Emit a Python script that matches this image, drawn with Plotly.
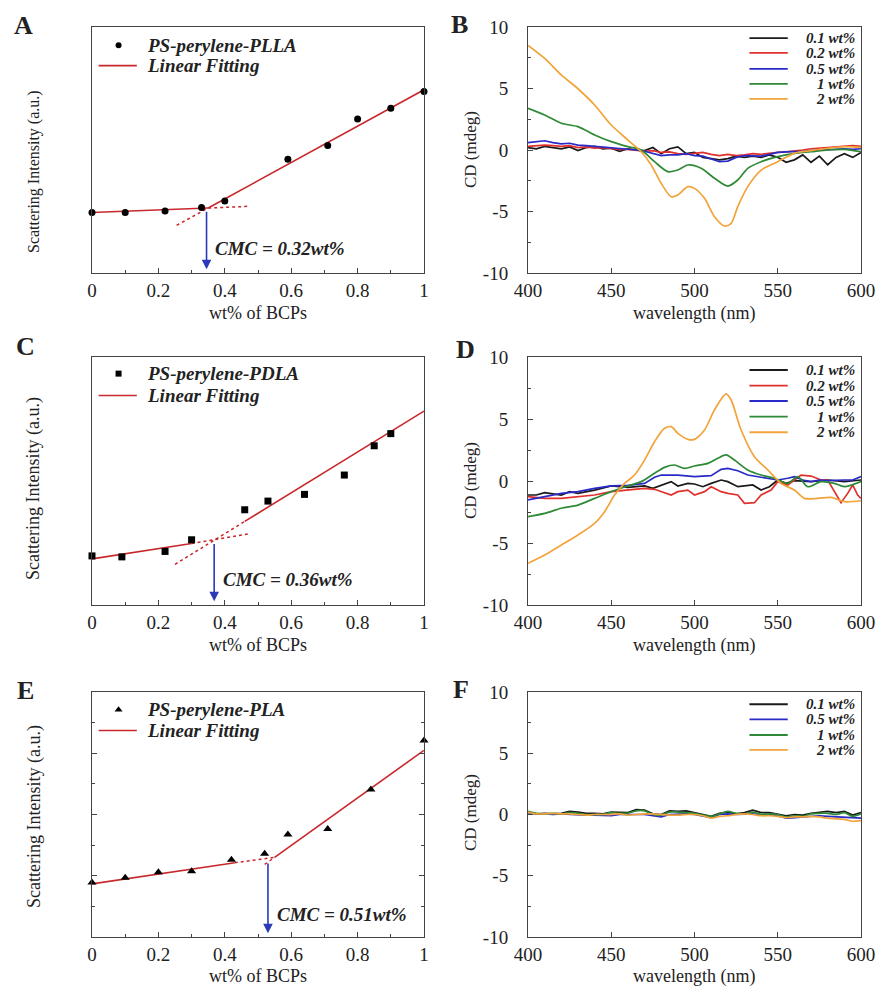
import plotly.graph_objects as go

W, H = 876, 988
FONT = "Liberation Serif, Times New Roman, serif"

# ---------------- Scattering data (arbitrary units, 0-10 scale) ----------------
a_x = [0, 0.10, 0.22, 0.33, 0.40, 0.59, 0.71, 0.80, 0.90, 1.00]
a_y = [2.46, 2.46, 2.52, 2.66, 2.93, 4.62, 5.18, 6.26, 6.70, 7.38]
a_fit1_x = [0, 0.35]; a_fit1_y = [2.46, 2.64]
a_ext1_x = [0.35, 0.47]; a_ext1_y = [2.64, 2.71]
a_fit2_x = [0.35, 1.0]; a_fit2_y = [2.64, 7.45]
a_ext2_x = [0.255, 0.35]; a_ext2_y = [1.94, 2.64]
a_cmc = 0.345

c_x = [0, 0.09, 0.22, 0.30, 0.46, 0.53, 0.64, 0.76, 0.85, 0.90]
c_y = [1.98, 1.94, 2.16, 2.63, 3.84, 4.19, 4.46, 5.24, 6.42, 6.91]
c_fit1_x = [0, 0.30]; c_fit1_y = [1.86, 2.48]
c_ext1_x = [0.30, 0.47]; c_ext1_y = [2.48, 2.86]
c_fit2_x = [0.46, 1.0]; c_fit2_y = [3.37, 7.82]
c_ext2_x = [0.25, 0.46]; c_ext2_y = [1.64, 3.37]
c_cmc = 0.368

e_x = [0, 0.10, 0.20, 0.30, 0.42, 0.52, 0.59, 0.71, 0.84, 1.00]
e_y = [2.22, 2.42, 2.64, 2.68, 3.15, 3.40, 4.18, 4.41, 6.02, 8.02]
e_fit1_x = [0, 0.43]; e_fit1_y = [2.17, 3.03]
e_ext1_x = [0.43, 0.55]; e_ext1_y = [3.03, 3.25]
e_fit2_x = [0.55, 1.0]; e_fit2_y = [3.25, 7.62]
e_ext2_x = [0.52, 0.55]; e_ext2_y = [2.96, 3.25]
e_cmc = 0.53

# ---------------- CD spectra ----------------
wl5 = list(range(400, 601, 5))

b_01 = [0.2,0.1,0.3,0.2,0.1,0.25,-0.05,0.2,0.3,0.1,0.15,-0.1,0.1,0.0,-0.05,0.2,-0.3,0.1,0.25,-0.3,
        -0.2,-0.6,-0.7,-0.8,-0.7,-0.5,-0.6,-0.5,-0.6,-0.4,-0.6,-1.0,-0.8,-0.4,-1.0,-0.5,-1.2,-0.6,-0.3,-0.6,-0.2]
b_02 = [0.3,0.35,0.4,0.35,0.3,0.35,0.2,0.25,0.15,0.2,0.1,0.05,0.05,0.0,-0.1,-0.05,-0.2,-0.15,-0.3,-0.35,
        -0.3,-0.2,-0.35,-0.45,-0.35,-0.45,-0.4,-0.3,-0.35,-0.25,-0.2,-0.15,-0.1,0.0,0.1,0.15,0.2,0.25,0.3,0.35,0.3]
b_05 = [0.6,0.65,0.75,0.6,0.5,0.55,0.4,0.35,0.3,0.25,0.15,0.1,0.05,0.0,-0.1,-0.3,-0.45,-0.4,-0.4,-0.3,
        -0.45,-0.5,-0.7,-0.95,-0.9,-0.6,-0.45,-0.5,-0.5,-0.35,-0.2,-0.15,-0.15,-0.1,-0.05,0.0,0.05,0.1,0.1,0.05,0.1]
b_1_wl = [400,410,420,430,440,450,460,468,476,484,490,496,504,512,520,526,532,540,550,560,570,580,590,600]
b_1 = [3.39,2.85,2.17,1.9,1.22,0.68,0.27,0.0,-0.95,-1.76,-1.63,-1.22,-1.49,-2.3,-2.93,-2.44,-1.49,-0.95,
       -0.54,-0.27,-0.14,0.0,0.05,-0.14]
b_2_wl = [400,410,420,430,440,450,460,468,474,480,486,490,496,500,506,512,518,522,526,532,540,550,560,570,580,590,600]
b_2 = [8.5,7.45,6.1,4.98,3.66,2.03,0.81,-0.14,-1.22,-2.71,-3.8,-3.66,-2.98,-3.12,-3.93,-5.42,-6.18,-5.96,
       -4.6,-2.98,-1.63,-0.95,-0.27,-0.05,0.14,0.27,0.22]

d_01_wl = [400,405,410,420,425,430,440,450,460,470,475,480,486,490,496,500,505,510,516,520,526,530,535,540,545,550,555,560,570,580,590,600]
d_01 = [-1.13,-1.13,-0.94,-1.13,-0.86,-1.0,-0.73,-0.4,-0.51,-0.4,-0.59,-0.32,-0.05,-0.4,-0.19,-0.24,-0.46,
        -0.19,0.08,-0.05,-0.46,-0.4,-0.32,-0.73,-0.46,0.08,-0.19,0.03,-0.05,0.08,-0.05,0.08]
d_02_wl = [400,410,420,430,440,450,460,470,476,480,486,490,496,500,506,510,516,520,526,530,536,540,546,550,556,560,564,570,576,580,586,588,592,595,598,600]
d_02 = [-1.26,-1.4,-1.4,-1.26,-1.13,-0.86,-0.73,-0.59,-0.67,-0.86,-1.13,-0.86,-0.73,-1.13,-0.86,-0.46,-0.86,
        -1.0,-1.13,-1.8,-1.75,-1.13,-0.73,-0.05,-0.32,0.08,0.48,0.4,0.08,0.08,-1.26,-1.75,-1.0,-0.32,-1.13,-1.4]
d_05_wl = [400,410,420,430,440,450,460,470,476,480,490,500,510,516,520,526,532,540,550,556,560,565,570,575,580,590,595,600]
d_05 = [-1.53,-1.26,-1.0,-0.86,-0.59,-0.4,-0.35,-0.19,0.3,0.48,0.48,0.35,0.43,0.94,1.02,0.83,0.48,0.3,0.08,
        0.22,0.35,0.08,-0.05,0.08,0.03,0.08,0.08,0.35]
d_1_wl = [400,410,420,430,440,450,460,468,476,482,488,494,500,508,514,519,524,532,540,548,556,562,568,576,584,590,600]
d_1 = [-2.88,-2.61,-2.2,-1.94,-1.4,-0.86,-0.4,-0.05,0.62,1.1,1.29,1.02,1.21,1.42,1.83,2.1,1.69,0.89,0.48,
       0.22,-0.19,0.35,-0.46,-0.05,-0.19,-0.46,-0.05]
d_2_wl = [400,410,420,430,440,446,452,458,464,470,476,482,486,490,496,500,506,512,519,522,528,536,544,552,560,566,574,582,590,600]
d_2 = [-6.64,-5.97,-5.16,-4.35,-3.41,-2.47,-1.13,-0.19,0.48,1.69,3.17,4.25,4.38,3.84,3.36,3.36,4.11,5.73,
       7.02,6.53,4.11,1.96,0.89,-0.19,-0.73,-1.4,-1.4,-1.32,-1.67,-1.59]

f_01 = [0.2,0.05,0.1,0.05,0.1,0.25,0.2,0.1,0.1,0.05,0.2,0.15,0.15,0.4,0.35,0.05,0.0,0.3,0.25,0.3,0.15,
        0.05,-0.15,0.1,0.2,0.05,0.15,0.35,0.15,0.15,0.05,-0.1,0.0,-0.05,0.1,0.15,0.25,0.15,0.25,-0.05,0.15]
f_05 = [0.15,0.05,0.05,0.0,0.05,0.0,0.0,-0.05,-0.05,-0.1,-0.1,0.0,0.0,0.05,0.0,-0.1,-0.2,0.0,0.05,0.05,
        0.0,-0.15,-0.25,0.0,0.05,0.0,0.05,0.05,-0.05,0.0,-0.1,-0.3,-0.25,-0.2,-0.1,-0.1,-0.15,-0.2,-0.2,-0.25,-0.3]
f_1 = [0.25,0.1,0.05,0.1,0.05,0.15,0.1,0.0,0.0,0.0,0.15,0.1,0.1,0.3,0.3,0.0,-0.05,0.2,0.2,0.15,0.1,
       -0.05,-0.15,0.05,0.25,0.1,0.05,0.2,0.0,0.05,0.0,-0.2,-0.1,-0.15,0.05,0.1,0.1,0.0,0.15,-0.15,0.05]
f_2 = [0.2,0.05,0.05,0.1,0.05,0.05,0.0,-0.05,0.0,0.0,0.0,0.05,-0.05,0.0,0.05,0.05,0.0,-0.05,-0.05,0.0,
       0.0,-0.1,-0.3,-0.15,-0.1,0.0,0.05,0.0,-0.1,-0.1,-0.15,-0.25,-0.2,-0.2,-0.15,-0.2,-0.3,-0.35,-0.4,-0.55,-0.5]

x_ticks_left = [0, 0.2, 0.4, 0.6, 0.8, 1]
x_ticklabels_left = ["0", "0.2", "0.4", "0.6", "0.8", "1"]
x_ticks_right = [400, 450, 500, 550, 600]
y_ticks_right = [-10, -5, 0, 5, 10]
y_ticklabels_right = ["-10", "-5", "0", "5", "10"]

COL = {"0.1 wt%": "#1a1a1a", "0.2 wt%": "#e0302c", "0.5 wt%": "#2a2ac8",
       "1 wt%": "#2e8a36", "2 wt%": "#f2a33a"}
FIT = "#c8282c"
ARROW = "#2a3ab8"

fig = go.Figure()

def px2x(px):
    return px / W

def px2y(py):
    return 1 - py / H

# domains
xl = [px2x(92), px2x(424)]
xr = [px2x(528), px2x(861)]
rows = [[px2y(273), px2y(27)], [px2y(605), px2y(357)], [px2y(937), px2y(692)]]

axis_common = dict(showline=True, mirror=True, linecolor="#444", linewidth=1,
                   showgrid=False, zeroline=False, ticks="inside", automargin=False,
                   tickfont=dict(family=FONT, size=19, color="#222"), tickcolor="#444")

layout = dict(width=W, height=H, margin=dict(l=0, r=0, t=0, b=0, autoexpand=False),
              paper_bgcolor="white", plot_bgcolor="white", showlegend=False)

annotations = []

for i, r in enumerate(rows):
    li = 2 * i + 1
    ri = 2 * i + 2
    lx = "xaxis" if li == 1 else f"xaxis{li}"
    ly = "yaxis" if li == 1 else f"yaxis{li}"
    layout[lx] = dict(axis_common, domain=xl, anchor=f"y{li if li > 1 else ''}", range=[0, 1],
                      tickvals=x_ticks_left, ticktext=x_ticklabels_left, ticklen=5,
                      ticklabelstandoff=0,
                      minor=dict(ticks="inside", ticklen=3, dtick=0.1, tickcolor="#444"))
    ydict = dict(axis_common, domain=r, anchor=f"x{li if li > 1 else ''}", range=[0, 10],
                 showticklabels=False, ticks="")
    if i == 2:
        ydict.update(ticks="inside", mirror="ticks", tickvals=[0, 2.5, 5, 7.5, 10], ticklen=5,
                     minor=dict(ticks="inside", ticklen=3, tickvals=[1.25, 3.75, 6.25, 8.75], tickcolor="#444"))
    layout[ly] = ydict
    layout[f"xaxis{ri}"] = dict(axis_common, domain=xr, anchor=f"y{ri}", range=[400, 600],
                                tickvals=x_ticks_right, ticklen=5, ticklabelstandoff=0)
    layout[f"yaxis{ri}"] = dict(axis_common, domain=r, anchor=f"x{ri}", range=[-10, 10],
                                tickvals=y_ticks_right, ticktext=y_ticklabels_right,
                                ticklen=5, ticklabelstandoff=15,
                                minor=dict(ticks="inside", ticklen=3, tickvals=[-7.5, -2.5, 2.5, 7.5], tickcolor="#444"))

def ax(n):
    return ("x" if n == 1 else f"x{n}"), ("y" if n == 1 else f"y{n}")

# ---------- left panels ----------
left_panels = [
    (1, a_x, a_y, "circle", 7, "PS-perylene-PLLA", a_fit1_x, a_fit1_y, a_ext1_x, a_ext1_y,
     a_fit2_x, a_fit2_y, a_ext2_x, a_ext2_y, a_cmc, 2.55, "CMC = 0.32wt%", 1.0, (9.26, 8.43)),
    (3, c_x, c_y, "square", 7, "PS-perylene-PDLA", c_fit1_x, c_fit1_y, c_ext1_x, c_ext1_y,
     c_fit2_x, c_fit2_y, c_ext2_x, c_ext2_y, c_cmc, 2.52, "CMC = 0.36wt%", 1.04, (9.33, 8.45)),
    (5, e_x, e_y, "triangle-up", 8, "PS-perylene-PLA", e_fit1_x, e_fit1_y, e_ext1_x, e_ext1_y,
     e_fit2_x, e_fit2_y, e_ext2_x, e_ext2_y, e_cmc, 3.06, "CMC = 0.51wt%", 0.92, (9.28, 8.43)),
]

for (n, px, py, sym, msz, name, f1x, f1y, e1x, e1y, f2x, f2y, e2x, e2y, cmc, ytop, cmctxt, cmcy, legy) in left_panels:
    xa, ya = ax(n)
    for ex, ey in [(e1x, e1y), (e2x, e2y)]:
        fig.add_trace(go.Scatter(x=ex, y=ey, mode="lines", xaxis=xa, yaxis=ya,
                                 line=dict(color=FIT, width=1.5, dash="dot"), hoverinfo="skip"))
    for fx, fy in [(f1x, f1y), (f2x, f2y)]:
        fig.add_trace(go.Scatter(x=fx, y=fy, mode="lines", xaxis=xa, yaxis=ya,
                                 line=dict(color=FIT, width=1.6)))
    fig.add_trace(go.Scatter(x=px, y=py, mode="markers", xaxis=xa, yaxis=ya, name=name,
                             marker=dict(symbol=sym, size=msz, color="black"), cliponaxis=False))
    # legend keys
    fig.add_trace(go.Scatter(x=[0.08], y=[legy[0]], mode="markers", xaxis=xa, yaxis=ya,
                             marker=dict(symbol=sym, size=msz - 1, color="black"), hoverinfo="skip"))
    fig.add_trace(go.Scatter(x=[0.02, 0.135], y=[legy[1], legy[1]], mode="lines", xaxis=xa, yaxis=ya,
                             line=dict(color=FIT, width=1.6), hoverinfo="skip"))
    for txt, yy in [(name, legy[0]), ("Linear Fitting", legy[1])]:
        annotations.append(dict(x=0.16, y=yy, xref=xa, yref=ya, text=f"<b><i>{txt}</i></b>",
                                showarrow=False, xanchor="left", yanchor="middle",
                                font=dict(family=FONT, size=19, color="#222")))
    # CMC arrow
    annotations.append(dict(x=cmc, y=0.15, ax=cmc, ay=ytop, xref=xa, yref=ya, axref=xa, ayref=ya,
                            text="", showarrow=True, arrowhead=2, arrowsize=1.2, arrowwidth=1.6,
                            arrowcolor=ARROW))
    annotations.append(dict(x=cmc + 0.02, y=cmcy, xref=xa, yref=ya, text=f"<b><i>{cmctxt}</i></b>",
                            showarrow=False, xanchor="left", yanchor="middle",
                            font=dict(family=FONT, size=19, color="#222")))

# ---------- right panels ----------
right_panels = [
    (2, [("0.1 wt%", wl5, b_01), ("0.2 wt%", wl5, b_02), ("0.5 wt%", wl5, b_05),
         ("1 wt%", b_1_wl, b_1), ("2 wt%", b_2_wl, b_2)], [9.1, 7.9, 6.6, 5.37, 4.15]),
    (4, [("0.1 wt%", d_01_wl, d_01), ("0.2 wt%", d_02_wl, d_02), ("0.5 wt%", d_05_wl, d_05),
         ("1 wt%", d_1_wl, d_1), ("2 wt%", d_2_wl, d_2)], [8.95, 7.69, 6.45, 5.19, 3.93]),
    (6, [("0.1 wt%", wl5, f_01), ("0.5 wt%", wl5, f_05), ("1 wt%", wl5, f_1), ("2 wt%", wl5, f_2)],
     [9.0, 7.77, 6.49, 5.27]),
]

for n, series, legys in right_panels:
    xa, ya = ax(n)
    for (lab, wx, wy) in series:
        smooth = lab in ("1 wt%", "2 wt%")
        fig.add_trace(go.Scatter(x=wx, y=wy, mode="lines", xaxis=xa, yaxis=ya, name=lab,
                                 line=dict(color=COL[lab], width=1.7,
                                           shape="spline" if smooth else "linear", smoothing=0.8)))
    for (lab, _, _), yy in zip(series, legys):
        fig.add_trace(go.Scatter(x=[533, 556], y=[yy, yy], mode="lines", xaxis=xa, yaxis=ya,
                                 line=dict(color=COL[lab], width=1.8), hoverinfo="skip"))
        annotations.append(dict(x=597.5, y=yy, xref=xa, yref=ya, text=f"<b><i>{lab}</i></b>",
                                showarrow=False, xanchor="right", yanchor="middle",
                                font=dict(family=FONT, size=15, color="#222")))

# ---------- axis titles & panel letters ----------
def ptext(x, y, text, size, angle=0, bold=False):
    t = f"<b>{text}</b>" if bold else text
    annotations.append(dict(x=px2x(x), y=px2y(y), xref="paper", yref="paper", text=t,
                            showarrow=False, xanchor="center", yanchor="middle", textangle=angle,
                            font=dict(family=FONT, size=size, color="#222")))

for yy in [313, 645, 976]:
    ptext(258, yy, "wt% of BCPs", 18)
    ptext(694, yy, "wavelength (nm)", 18)
ptext(34, 172, "Scattering Intensity (a.u.)", 16, angle=-90)
ptext(34, 489, "Scattering Intensity (a.u.)", 18, angle=-90)
ptext(34, 817, "Scattering Intensity (a.u.)", 18, angle=-90)
for yy in [150, 481, 813]:
    ptext(470, yy, "CD (mdeg)", 17, angle=-90)

for lab, x, y in [("A", 23, 26), ("B", 459, 24), ("C", 25, 347), ("D", 465, 349), ("E", 25, 690), ("F", 461, 689)]:
    ptext(x, y, lab, 26, bold=True)

layout["annotations"] = annotations
fig.update_layout(**layout)
fig.write_html("out.html", config={"displayModeBar": False},
               post_script="document.body.style.margin='0';document.body.style.overflow='hidden';")
